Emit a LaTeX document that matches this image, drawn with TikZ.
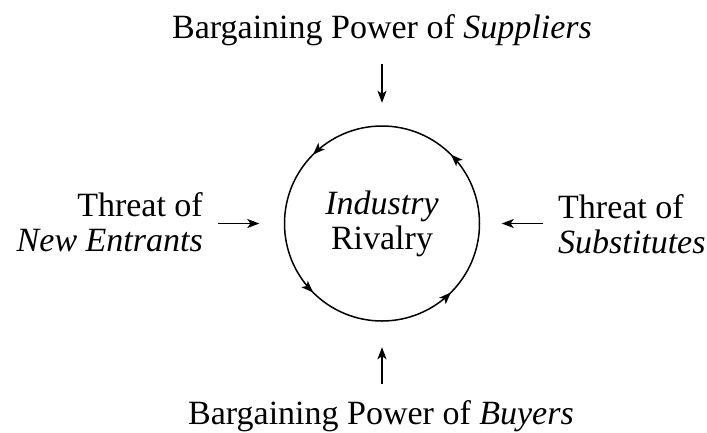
\documentclass[tikz,border=0pt]{standalone}
\usepackage{fontspec}
\setmainfont{Liberation Serif}
\usetikzlibrary{arrows.meta,decorations.markings}
\begin{document}
\begin{tikzpicture}[x=1pt,y=1pt,
  font=\fontsize{34}{35}\selectfont,
  lbl/.style={inner sep=0pt},
  push/.style={-{Stealth[length=12pt,width=9pt,inset=3pt]}, line width=1.4pt},
  ringline/.style={line width=1.5pt, postaction={decorate},
    decoration={markings,
      mark=at position 0.125 with {\arrow{Stealth[length=12pt,width=9pt,inset=3pt]}},
      mark=at position 0.375 with {\arrow{Stealth[length=12pt,width=9pt,inset=3pt]}},
      mark=at position 0.625 with {\arrow{Stealth[length=12pt,width=9pt,inset=3pt]}},
      mark=at position 0.875 with {\arrow{Stealth[length=12pt,width=9pt,inset=3pt]}}}}]
\useasboundingbox (0,0) rectangle (707,-432);
\node[lbl, anchor=base] (sup) at (382,-38) {Bargaining Power of \textit{Suppliers}};
\node[lbl, anchor=base] (buy) at (381,-424) {Bargaining Power of \textit{Buyers}};
\node[lbl, align=right, anchor=north east] (ent) at (203,-192.5) {Threat of\\\textit{New Entrants}};
\node[lbl, align=left, anchor=north west] (sub) at (558,-194.5) {Threat of\\\textit{Substitutes}};
\node[circle, minimum size=195pt, inner sep=0pt] (ring) at (382,-223.5) {};
\node[lbl, align=center] (riv) at (ring.center) {\textit{Industry}\\Rivalry};
\draw[ringline] (ring.center) circle[radius=97.5];
\draw[push, shorten <=18pt, shorten >=23pt] (ring.north |- sup.south) -- (ring.north);
\draw[push, shorten <=15.5pt, shorten >=26pt] (ring.south |- buy.north) -- (ring.south);
\draw[push, shorten <=15pt, shorten >=25pt] (ring.west -| ent.east) -- (ring.west);
\draw[push, shorten <=15pt, shorten >=22pt] (ring.east -| sub.west) -- (ring.east);
\end{tikzpicture}
\end{document}
